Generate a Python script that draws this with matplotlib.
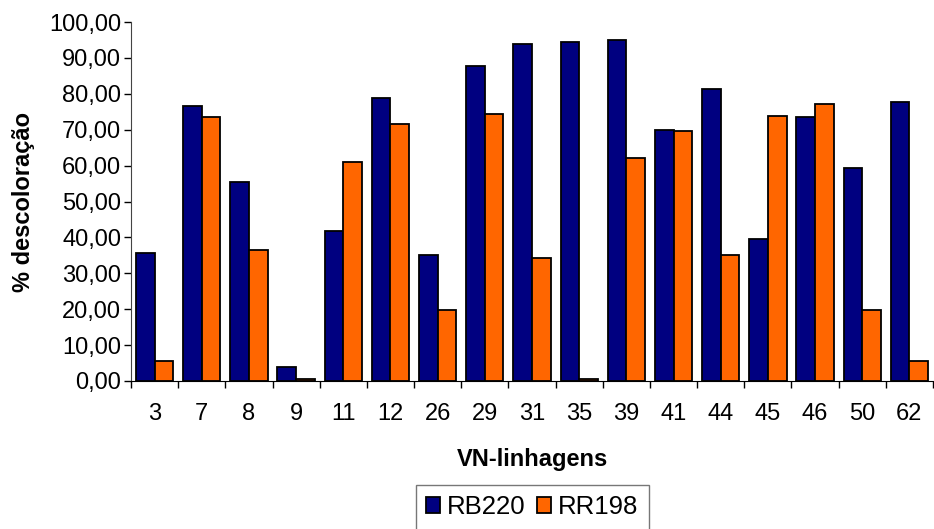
import matplotlib
matplotlib.use("Agg")
import matplotlib.pyplot as plt
import numpy as np
from matplotlib.ticker import FixedLocator, FuncFormatter

categories = ["3", "7", "8", "9", "11", "12", "26", "29", "31", "35", "39", "41", "44", "45", "46", "50", "62"]
rb220 = [35.6, 76.6, 55.4, 3.8, 41.7, 78.8, 35.0, 87.7, 94.0, 94.5, 95.1, 70.0, 81.2, 39.5, 73.4, 59.4, 77.8]
rr198 = [5.6, 73.4, 36.6, 0.6, 61.1, 71.6, 19.9, 74.4, 34.4, 0.6, 62.2, 69.5, 35.0, 73.9, 77.2, 19.9, 5.6]
yticks = [0, 10, 20, 30, 40, 50, 60, 70, 80, 90, 100]

plt.rcParams['font.family'] = ['Liberation Sans', 'DejaVu Sans']

W, H = 934, 529
fig = plt.figure(figsize=(W / 100, H / 100), dpi=100)
ax = fig.add_axes([131 / W, 1 - 381 / H, (933 - 131) / W, (381 - 22) / H])

x = np.arange(len(categories))
bw = 0.395
ax.bar(x - bw / 2, rb220, bw, color="#000080", edgecolor="black", linewidth=1.3, label="RB220")
ax.bar(x + bw / 2, rr198, bw, color="#FF6600", edgecolor="black", linewidth=1.3, label="RR198")

ax.set_xlim(-0.5, len(categories) - 0.5)
ax.set_ylim(0, 100)
ax.set_yticks(yticks)
ax.yaxis.set_major_formatter(FuncFormatter(lambda v, p: f"{v:.2f}".replace(".", ",")))
ax.tick_params(axis="y", labelsize=17, length=5, width=1, pad=2)

ax.set_xticks(x)
ax.set_xticklabels(categories)
ax.tick_params(axis="x", which="major", length=0, labelsize=17, pad=15.5)
ax.xaxis.set_minor_locator(FixedLocator(np.arange(-0.5, len(categories), 1.0)))
ax.tick_params(axis="x", which="minor", length=5, width=1)

for s in ["top", "right"]:
    ax.spines[s].set_visible(False)
ax.spines["left"].set_color("#444444")
ax.spines["bottom"].set_color("black")

ax.set_xlabel("VN-linhagens", fontsize=17, fontweight="bold", labelpad=17)
ax.set_ylabel("% descoloração", fontsize=17, fontweight="bold", labelpad=10)

fig.legend(loc="upper center", bbox_to_anchor=(532 / W, 1 - 485 / H), ncol=2,
           fontsize=18.5, frameon=True, fancybox=False, edgecolor="#555555",
           handlelength=0.55, handleheight=0.55, handletextpad=0.28, columnspacing=0.42,
           borderpad=0.4, borderaxespad=0)

fig.savefig("out.png", dpi=100)
